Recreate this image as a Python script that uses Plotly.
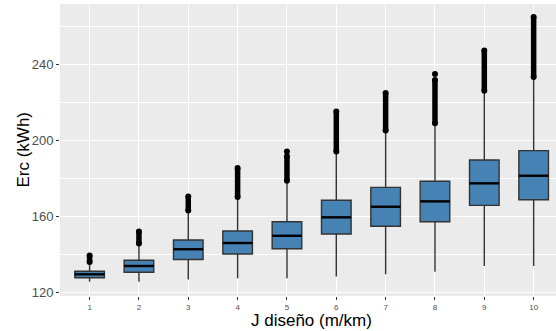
import plotly.graph_objects as go

# Design gradient categories (m/km)
categories = [1, 2, 3, 4, 5, 6, 7, 8, 9, 10]
tick_labels = ["1", "2", "3", "4", "5", "6", "7", "8", "9", "10"]

# Box statistics for Erc (kWh)
lower_whisker = [125.4, 125.4, 126.6, 127.2, 127.2, 128.1, 129.3, 130.7, 133.7, 133.7]
q1 = [127.5, 130.4, 137.1, 140.0, 142.8, 150.5, 154.6, 157.0, 165.6, 168.6]
median = [129.3, 133.7, 142.5, 145.8, 149.6, 159.3, 164.9, 167.7, 177.2, 181.2]
q3 = [130.9, 136.7, 147.4, 152.1, 157.0, 168.3, 175.1, 178.3, 189.5, 194.4]
upper_whisker = [135.5, 145.2, 162.6, 169.7, 178.2, 193.7, 204.7, 208.6, 225.7, 233.0]

# Outliers: dense runs (lowest, highest) plus a few isolated points
outlier_run_low = [135.8, 145.5, 162.9, 170.0, 178.5, 194.0, 205.0, 208.8, 226.0, 233.2]
outlier_run_high = [139.2, 151.8, 170.3, 185.3, 191.5, 215.0, 224.7, 231.6, 247.1, 264.7]
isolated_x = [5, 8]
isolated_y = [194.0, 234.8]

FILL = "#4682B4"
EDGE = "#333333"
BOX_WIDTH = 0.6
FONT = "Liberation Sans, Arial, sans-serif"

fig = go.Figure()

fig.add_trace(go.Box(
    x=categories,
    q1=q1,
    median=median,
    q3=q3,
    lowerfence=lower_whisker,
    upperfence=upper_whisker,
    width=BOX_WIDTH,
    whiskerwidth=0,
    boxpoints=False,
    fillcolor=FILL,
    line=dict(color=EDGE, width=1.4),
    showlegend=False,
    hoverinfo="skip",
))

# Thicker median bars
mx, my = [], []
for c, m in zip(categories, median):
    mx += [c - BOX_WIDTH / 2, c + BOX_WIDTH / 2, None]
    my += [m, m, None]
fig.add_trace(go.Scatter(
    x=mx, y=my, mode="lines",
    line=dict(color="black", width=2.4),
    showlegend=False, hoverinfo="skip",
))

# Outlier runs
ox, oy = [], []
for c, lo, hi in zip(categories, outlier_run_low, outlier_run_high):
    ox += [c, c, None]
    oy += [lo, hi, None]
fig.add_trace(go.Scatter(
    x=ox, y=oy, mode="lines+markers",
    line=dict(color="black", width=5.5),
    marker=dict(color="black", size=6),
    showlegend=False, hoverinfo="skip",
))
fig.add_trace(go.Scatter(
    x=isolated_x, y=isolated_y, mode="markers",
    marker=dict(color="black", size=6),
    showlegend=False, hoverinfo="skip",
))

# Axis titles
fig.add_annotation(
    text="J diseño (m/km)", x=5.5, xref="x", y=-0.045, yref="paper",
    yanchor="top", showarrow=False,
    font=dict(family=FONT, size=17, color="black"),
)
fig.add_annotation(
    text="Erc (kWh)", x=-0.0755, xref="paper", y=0.5, yref="paper",
    xanchor="center", yanchor="middle", textangle=-90, showarrow=False,
    font=dict(family=FONT, size=17, color="black"),
)

fig.update_layout(
    width=556, height=331,
    margin=dict(l=60.4, r=0, t=4, b=35),
    paper_bgcolor="white",
    plot_bgcolor="#EBEBEB",
    font=dict(family=FONT),
    xaxis=dict(
        range=[0.4, 10.453],
        tickmode="array", tickvals=categories, ticktext=tick_labels,
        tickfont=dict(size=8, color="#4D4D4D"),
        ticks="outside", ticklen=3, tickwidth=1, tickcolor="#333333",
        showgrid=True, gridcolor="white", gridwidth=1.2,
        zeroline=False, showline=False,
    ),
    yaxis=dict(
        range=[117.9, 271.6],
        tickmode="array", tickvals=[120, 160, 200, 240],
        tickfont=dict(size=13, color="#4D4D4D"),
        ticks="outside", ticklen=3, tickwidth=1, tickcolor="#333333",
        showgrid=True, gridcolor="white", gridwidth=1.2,
        minor=dict(tickmode="array", tickvals=[140, 180, 220, 260],
                   showgrid=True, gridcolor="white", gridwidth=0.6, ticks=""),
        zeroline=False, showline=False,
    ),
)

fig.write_html("out.html")
